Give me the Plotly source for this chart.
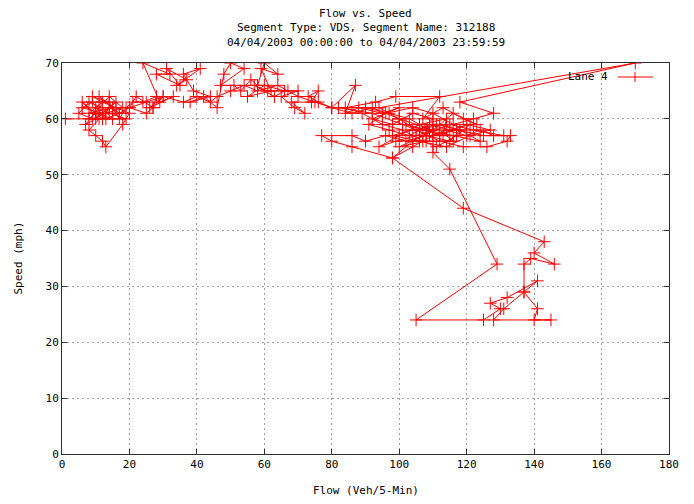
import plotly.graph_objects as go

# flow (veh/5-min) and speed (mph) in time order
night = [(1, 60), (19, 60), (14, 61), (10, 62), (12, 63), (8, 61), (15, 62), (11, 64), (17, 61),
         (13, 60), (9, 63), (6, 62), (12, 61), (16, 63), (10, 60), (7, 59), (11, 62), (14, 64),
         (18, 62), (13, 61), (9, 60), (5, 61), (8, 63), (12, 62), (15, 60), (10, 61), (6, 63),
         (11, 60), (8, 58), (10, 57), (12, 56), (13, 55), (18, 59), (20, 61), (16, 62), (12, 63),
         (9, 64), (14, 63), (17, 60), (19, 62), (21, 63), (24, 63), (28, 64), (27, 62), (22, 64),
         (20, 62), (25, 63), (30, 64), (26, 62), (33, 64), (29, 63)]
morning = [(24, 70), (32, 68), (28, 68), (35, 66), (31, 69), (37, 67), (34, 66), (41, 69), (36, 68),
           (39, 65), (44, 64), (38, 63), (42, 64), (46, 62), (48, 68), (50, 70), (54, 69), (47, 66),
           (51, 66), (53, 65), (56, 67), (58, 66), (60, 70), (64, 68), (59, 69), (62, 65), (55, 64),
           (60, 66), (66, 65), (63, 64), (57, 66), (61, 65), (67, 65), (70, 65), (65, 64), (69, 62),
           (72, 61), (68, 63), (74, 63), (76, 65), (73, 64), (76, 63), (80, 62), (87, 66), (84, 61)]
peak = [(88, 62), (95, 61), (100, 62), (92, 60), (98, 59), (104, 61), (110, 60), (106, 58),
        (112, 59), (118, 58), (115, 56), (108, 57), (102, 56), (96, 57), (90, 56), (86, 57),
        (77, 57), (80, 56), (86, 55), (98, 53), (104, 55), (110, 57), (114, 58), (120, 57),
        (124, 58), (128, 57), (133, 57), (132, 56), (126, 55), (119, 55), (112, 56), (105, 58),
        (100, 60), (94, 62), (170, 70), (118, 63), (128, 61), (122, 60), (116, 59), (110, 61),
        (104, 62), (96, 61), (91, 59), (97, 58), (103, 57), (109, 59), (115, 58), (121, 59),
        (117, 57), (111, 55), (107, 56), (101, 58), (95, 59), (89, 61), (84, 62), (93, 63),
        (99, 64), (112, 64), (107, 60), (113, 62), (119, 60), (123, 59), (116, 61), (110, 58),
        (105, 57), (99, 56), (94, 55), (100, 57), (106, 59), (114, 60), (113, 57)]
midday = [(102, 59), (108, 58), (116, 57), (124, 56), (118, 58), (111, 59), (104, 58), (98, 57),
          (106, 56), (114, 55), (121, 57), (127, 58), (120, 59), (112, 57), (103, 60), (97, 61),
          (90, 62), (82, 62), (92, 61), (101, 59), (109, 57), (117, 58), (125, 57), (131, 57),
          (122, 58), (115, 59), (107, 57), (100, 55), (108, 56), (116, 56), (110, 59)]
congestion = [(110, 54), (115, 51), (129, 34), (105, 24), (125, 24), (130, 26), (127, 27),
              (132, 28), (141, 31), (137, 29), (141, 26), (140, 24), (145, 24), (128, 24),
              (131, 26), (137, 29), (137, 34), (139, 35), (146, 34), (140, 36), (143, 38),
              (119, 44), (98, 53)]
evening = [(104, 56), (110, 58), (100, 60), (92, 62), (86, 61), (80, 62), (75, 63), (70, 64),
           (64, 66), (58, 65), (54, 66), (50, 65), (46, 64), (44, 63), (40, 64), (36, 63),
           (30, 64), (27, 62), (25, 61), (20, 62), (17, 61), (14, 62), (12, 60), (10, 61), (8, 60)]

points = night + morning + peak + midday + congestion + evening
flow = [p[0] for p in points]
speed = [p[1] for p in points]

RED = "#ff0000"
FONT = dict(family="DejaVu Sans Mono", size=11, color="#000000")
PW, PH = 607, 391  # plot area in px

fig = go.Figure()
fig.add_trace(go.Scatter(
    x=flow, y=speed, mode="lines+markers", name="Lane 4",
    line=dict(color=RED, width=1),
    marker=dict(symbol="cross-thin-open", size=9, line=dict(color=RED, width=1)),
    showlegend=False,
))

axis = dict(
    showline=True, linecolor="#303030", linewidth=1, mirror="ticks",
    ticks="inside", ticklen=5, tickcolor="#303030",
    showgrid=True, gridcolor="#a0a0a0", griddash="2px,3px", gridwidth=1,
    zeroline=False, tickfont=FONT,
)
fig.update_xaxes(range=[0, 180], dtick=20, **axis)
fig.update_yaxes(range=[0, 70], dtick=10, **axis)

titles = ["Flow vs. Speed", "Segment Type: VDS, Segment Name: 312188",
          "04/04/2003 00:00:00 to 04/04/2003 23:59:59"]
for i, t in enumerate(titles):
    fig.add_annotation(text=t, xref="paper", yref="paper", x=0.5, y=1 + (50 - 14.5 * i) / PH,
                       showarrow=False, font=FONT, xanchor="center", yanchor="middle")
fig.add_annotation(text="Flow (Veh/5-Min)", xref="paper", yref="paper", x=0.5, y=-36 / PH,
                   showarrow=False, font=FONT, yanchor="middle")
fig.add_annotation(text="Speed (mph)", xref="paper", yref="paper", x=-44 / PW, y=0.5,
                   textangle=-90, showarrow=False, font=FONT, xanchor="center")

# legend key drawn gnuplot style: label left, sample right
ky = 1 - 14 / PH
fig.add_annotation(text="Lane 4", xref="paper", yref="paper", x=548 / PW, y=ky,
                   showarrow=False, font=FONT, xanchor="right", yanchor="middle")
fig.add_shape(type="line", xref="paper", yref="paper", x0=556 / PW, x1=591 / PW,
              y0=ky, y1=ky, line=dict(color=RED, width=1))
fig.add_shape(type="line", xref="paper", yref="paper", x0=573 / PW, x1=573 / PW,
              y0=ky + 5 / PH, y1=ky - 5 / PH, line=dict(color=RED, width=1))

# page body has an 8px margin, so the figure is sized to fit inside the window
fig.update_layout(
    width=686, height=496,
    margin=dict(l=54, r=25, t=55, b=50),
    plot_bgcolor="white", paper_bgcolor="white",
    font=FONT,
)

fig.write_html("out.html")
